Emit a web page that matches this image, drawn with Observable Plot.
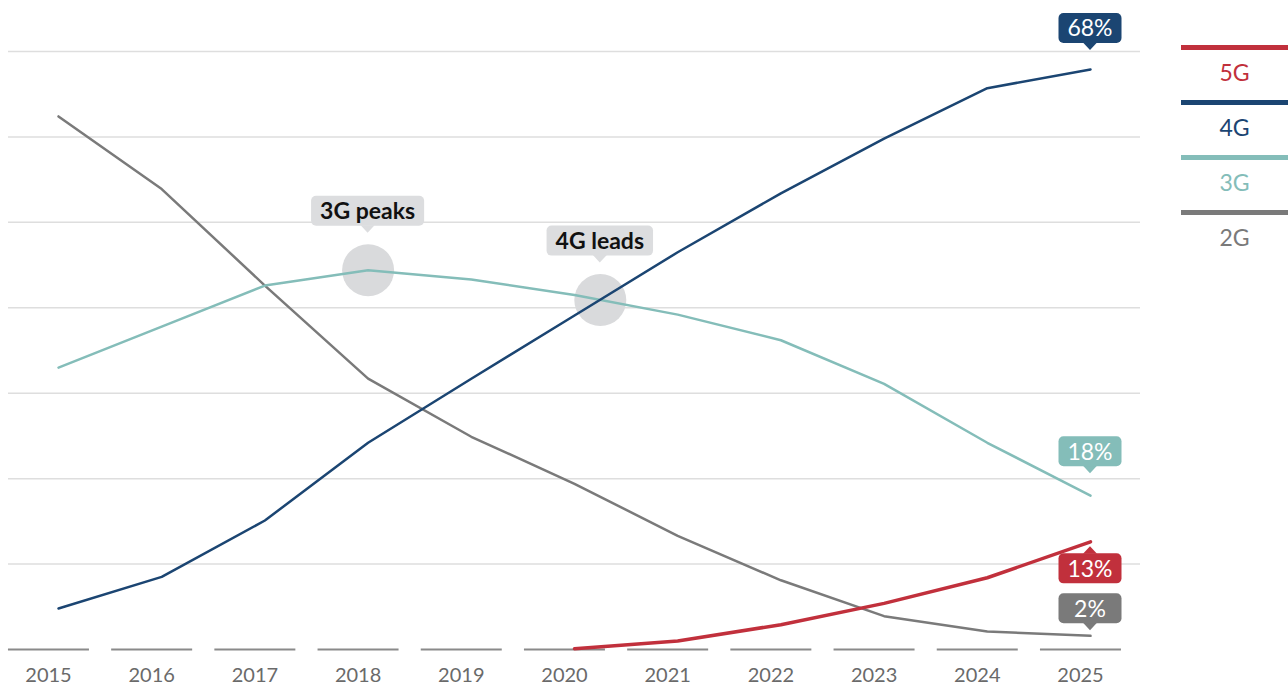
<!DOCTYPE html>
<html>
<head>
<meta charset="utf-8">
<script src="https://cdn.jsdelivr.net/npm/d3@7"></script>
<script src="https://cdn.jsdelivr.net/npm/@observablehq/plot@0.6"></script>
<style>
  html, body { margin: 0; padding: 0; background: #fff; overflow: hidden; }
  #wrap { position: relative; width: 1288px; height: 686px; font-family: Lato, "Noto Sans", sans-serif; }
  #chart { position: absolute; left: 0; top: 0; }
  #legend { position: absolute; left: 1181px; top: 0; width: 107px; }
  .item { position: absolute; left: 0; width: 107px; }
  .bar { height: 5px; width: 107px; }
  .lab { text-align: center; font-size: 23px; margin-top: 11px; line-height: 23px; }
</style>
</head>
<body>
<div id="wrap"><div id="chart"></div><div id="legend"></div></div>
<script>
// ---- data ----
const years = [2015, 2016, 2017, 2018, 2019, 2020, 2021, 2022, 2023, 2024, 2025];
const series = ["5G", "4G", "3G", "2G"];
const g5 = [null, null, null, null, null, 0.1, 1.0, 2.9, 5.4, 8.4, 12.6];
const g4 = [4.8, 8.5, 15.1, 24.2, 31.7, 39.1, 46.5, 53.4, 59.8, 65.7, 67.9];
const g3 = [33.0, 37.8, 42.6, 44.4, 43.3, 41.5, 39.2, 36.2, 31.1, 24.2, 18.0];
const g2 = [62.4, 53.9, 42.6, 31.7, 24.9, 19.4, 13.3, 8.1, 3.9, 2.1, 1.6];
const gridTicks = [10, 20, 30, 40, 50, 60, 70];
const endLabels = ["13%", "68%", "18%", "2%"];
const noteText = ["3G peaks", "4G leads"];
const noteX = [2018, 2020.25];
const noteY = [44.4, 40.9];

// ---- styles ----
const colors = {"5G": "#c1303c", "4G": "#1b4572", "3G": "#84bdb9", "2G": "#7a7a7a"};
const widths = {"5G": 3.5, "4G": 2.5, "3G": 2.5, "2G": 2.5};
const valuesBy = {"5G": g5, "4G": g4, "3G": g3, "2G": g2};

const rows = series.flatMap(s => years.map((yr, i) => ({series: s, year: yr, value: valuesBy[s][i]})).filter(d => d.value != null));
const notes = noteText.map((t, i) => ({text: t, x: noteX[i], y: noteY[i]}));

const chart = Plot.plot({
  width: 1150, height: 686,
  marginLeft: 8, marginRight: 10, marginTop: 0, marginBottom: 0,
  x: {domain: [2015, 2025], range: [58, 1090], axis: null},
  y: {domain: [0, 70], range: [649, 51], axis: null},
  style: {fontFamily: "Lato, 'Noto Sans', sans-serif", background: "transparent", overflow: "visible"},
  marks: [
    Plot.ruleY(gridTicks, {stroke: "#dedede", strokeWidth: 1.5}),
    Plot.ruleY(years, {y: () => 0, x1: d => d - 0.485, x2: d => d + 0.30, stroke: "#8a8a8a", strokeWidth: 2}),
    Plot.text(years, {x: d => d, y: () => 0, dx: -10, dy: 26, text: d => String(d), fontSize: 20, fill: "#6a6a6a"}),
    Plot.dot(notes, {x: "x", y: "y", r: 26, fill: "#d9dadc"}),
    ...["2G", "3G", "4G", "5G"].map(s =>
      Plot.line(rows.filter(d => d.series === s), {x: "year", y: "value", stroke: colors[s], strokeWidth: widths[s], strokeLinejoin: "round"}))
  ]
});
document.getElementById("chart").appendChild(chart);

// ---- callouts (positioned through the plot's own scales) ----
const sx = chart.scale("x"), sy = chart.scale("y");
const layer = d3.select(chart).append("g");
function callout(xv, yv, text, opt) {
  const cx = sx.apply(xv), py = sy.apply(yv);
  const g = layer.append("g");
  const t = g.append("text").text(text)
    .attr("font-size", opt.size).attr("font-weight", opt.weight).attr("fill", opt.color)
    .attr("text-anchor", "middle").attr("font-family", "Lato, 'Noto Sans', sans-serif");
  const w = opt.width || (t.node().getBBox().width + 18);
  const h = 30, ph = 7, pw = 7;
  let tip, top;
  if (opt.dir === "up") { tip = py - opt.gap; top = tip - ph - h; }
  else { tip = py + opt.gap; top = tip + ph; }
  const base = opt.dir === "up" ? top + h - 0.5 : top + 0.5;
  g.insert("path", "text").attr("d", `M${cx - pw},${base}L${cx},${tip}L${cx + pw},${base}Z`).attr("fill", opt.fill);
  g.insert("rect", "text").attr("x", cx - w / 2).attr("y", top).attr("width", w).attr("height", h).attr("rx", 5).attr("fill", opt.fill);
  t.attr("x", cx).attr("y", top + h / 2).attr("dy", "0.36em");
}
const endCfg = {
  "5G": {dir: "down", gap: 5},
  "4G": {dir: "up", gap: 19},
  "3G": {dir: "up", gap: 22},
  "2G": {dir: "up", gap: 5}
};
series.forEach((s, i) => {
  const v = valuesBy[s][years.length - 1];
  callout(2025, v, endLabels[i], {...endCfg[s], width: 63, size: 23, weight: 400, color: "#fff", fill: colors[s]});
});
notes.forEach(n => callout(n.x, n.y, n.text, {dir: "up", gap: 37, size: 23, weight: 700, color: "#111", fill: "#dcdddf"}));

// ---- legend ----
const legend = d3.select("#legend");
series.forEach((s, i) => {
  const it = legend.append("div").attr("class", "item").style("top", (44.5 + i * 55.3) + "px");
  it.append("div").attr("class", "bar").style("background", colors[s]);
  it.append("div").attr("class", "lab").style("color", colors[s]).text(s);
});
</script>
</body>
</html>
